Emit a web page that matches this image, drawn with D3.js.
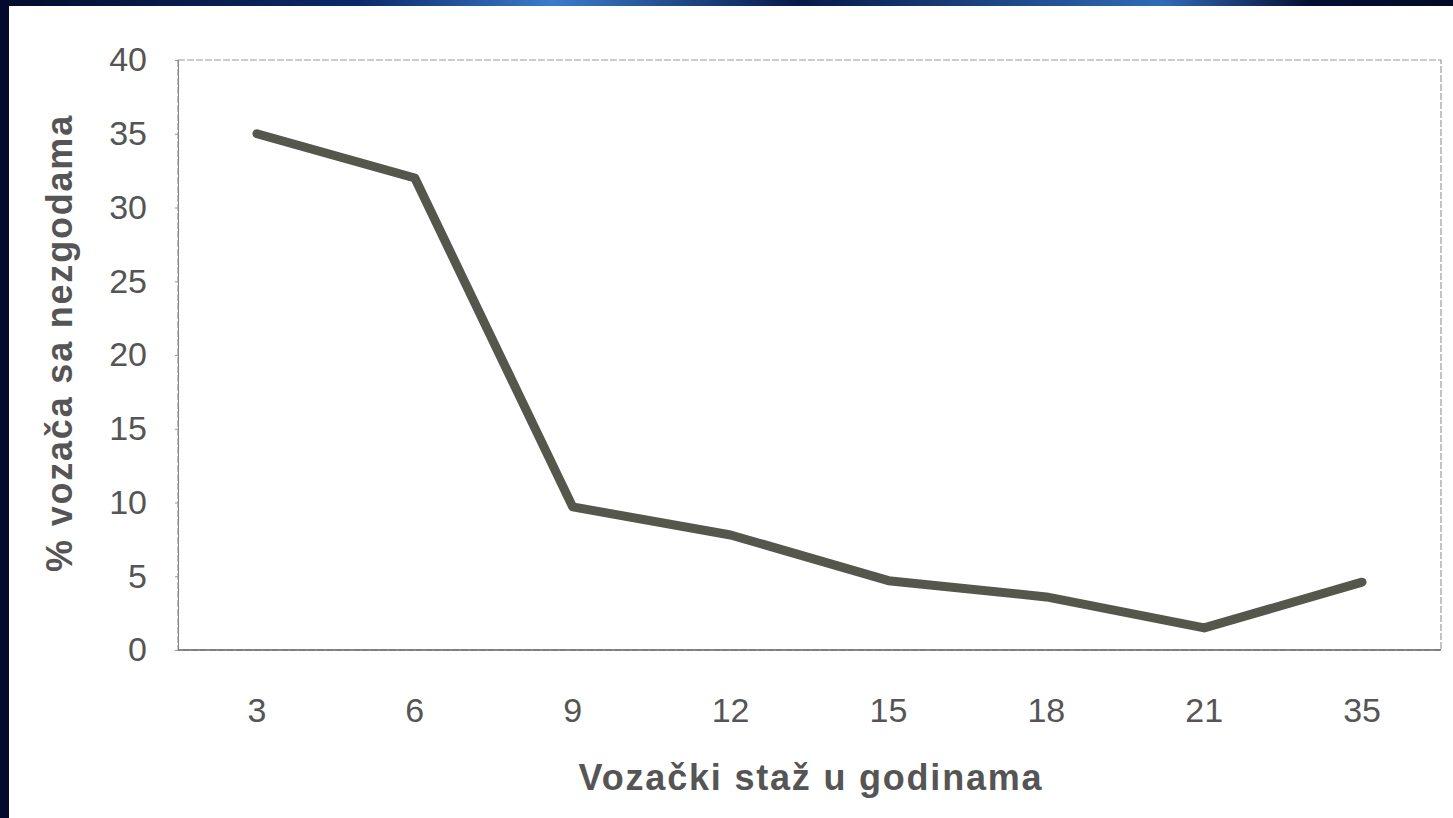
<!DOCTYPE html>
<html>
<head>
<meta charset="utf-8">
<script src="https://cdn.jsdelivr.net/npm/d3@7"></script>
<style>
    html, body { margin: 0; padding: 0; background: #fff; }
    #chart { width: 1453px; height: 818px; }
    text { font-family: "Liberation Sans", Arial, sans-serif; fill: #555; }
</style>
</head>
<body>
<div id="chart"><svg width="1453" height="818"></svg></div>
<script>
const categories = ["3", "6", "9", "12", "15", "18", "21", "35"];
const values = [35, 32, 9.7, 7.8, 4.7, 3.6, 1.5, 4.6];
const yTicks = [0, 5, 10, 15, 20, 25, 30, 35, 40];
const xTitle = "Vozački staž u godinama";
const yTitle = "% vozača sa nezgodama";

const data = categories.map(function(c, i) { return { cat: c, value: values[i] }; });

const svg = d3.select("#chart svg");

// slide frame (dark left and top edges)
const defs = svg.append("defs");
const grad = defs.append("linearGradient").attr("id", "topband");
grad.append("stop").attr("offset", "0%").attr("stop-color", "#030c2c");
grad.append("stop").attr("offset", "25%").attr("stop-color", "#0b2a6a");
grad.append("stop").attr("offset", "38%").attr("stop-color", "#3b7ccc");
grad.append("stop").attr("offset", "55%").attr("stop-color", "#061a48");
grad.append("stop").attr("offset", "80%").attr("stop-color", "#2f6bb8");
grad.append("stop").attr("offset", "90%").attr("stop-color", "#041033");
grad.append("stop").attr("offset", "100%").attr("stop-color", "#020a26");

svg.append("rect").attr("x", 0).attr("y", 0).attr("width", 1453).attr("height", 6).attr("fill", "url(#topband)");
svg.append("rect").attr("x", 0).attr("y", 0).attr("width", 9).attr("height", 818).attr("fill", "#020b2e");

const plot = { left: 178, top: 60, right: 1441, bottom: 650 };

const xScale = d3.scaleBand()
    .domain(categories)
    .range([plot.left, plot.right]);

const yScale = d3.scaleLinear()
    .domain([0, 40])
    .range([plot.bottom, plot.top]);

// plot frame
svg.append("rect")
    .attr("x", plot.left)
    .attr("y", plot.top)
    .attr("width", plot.right - plot.left)
    .attr("height", plot.bottom - plot.top)
    .attr("fill", "none")
    .attr("stroke", "#9a9a9a")
    .attr("stroke-width", 1.2)
    .attr("stroke-dasharray", "7,2");

svg.append("line")
    .attr("x1", plot.left).attr("x2", plot.right)
    .attr("y1", plot.bottom).attr("y2", plot.bottom)
    .attr("stroke", "#666")
    .attr("stroke-width", 1.5);

// y axis
const yAxis = svg.append("g")
    .attr("transform", "translate(" + plot.left + ",0)")
    .call(d3.axisLeft(yScale).tickValues(yTicks).tickSize(3).tickPadding(28));
yAxis.select(".domain").attr("stroke", "#888");
yAxis.selectAll(".tick line").attr("stroke", "#999");
yAxis.selectAll(".tick text")
    .attr("fill", "#555")
    .style("font-size", "34px")
    .style("font-family", "\"Liberation Sans\", Arial, sans-serif");

// x axis
const xAxis = svg.append("g")
    .attr("transform", "translate(0," + plot.bottom + ")")
    .call(d3.axisBottom(xScale).tickSize(0).tickPadding(48));
xAxis.select(".domain").remove();
xAxis.selectAll(".tick text")
    .attr("fill", "#555")
    .style("font-size", "34px")
    .style("font-family", "\"Liberation Sans\", Arial, sans-serif");

// line
const line = d3.line()
    .x(function(d) { return xScale(d.cat) + xScale.bandwidth() / 2; })
    .y(function(d) { return yScale(d.value); });

svg.append("path")
    .datum(data)
    .attr("d", line)
    .attr("fill", "none")
    .attr("stroke", "#55574d")
    .attr("stroke-width", 9)
    .attr("stroke-linecap", "round")
    .attr("stroke-linejoin", "round");

// axis titles
svg.append("text")
    .attr("x", 811)
    .attr("y", 790)
    .attr("text-anchor", "middle")
    .style("font-size", "36px")
    .style("font-weight", "bold")
    .style("letter-spacing", "1.8px")
    .text(xTitle);

svg.append("text")
    .attr("transform", "translate(72,343) rotate(-90)")
    .attr("text-anchor", "middle")
    .style("font-size", "36px")
    .style("font-weight", "bold")
    .style("letter-spacing", "1.8px")
    .text(yTitle);
</script>
</body>
</html>
